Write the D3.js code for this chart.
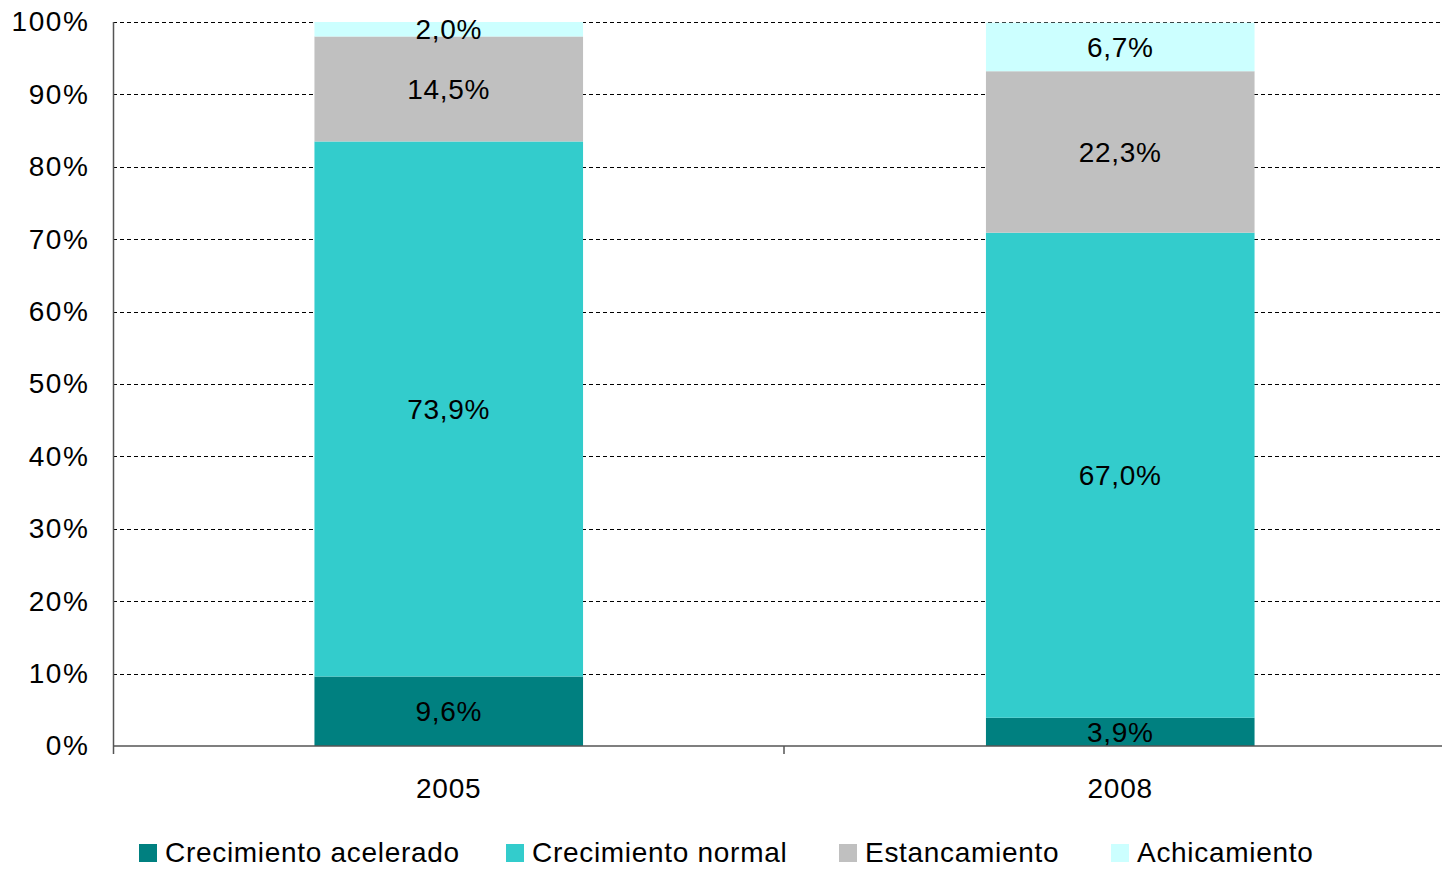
<!DOCTYPE html>
<html lang="es">
    <head>
        <title>Crecimiento 2005 - 2008</title>
        <script src="https://d3js.org/d3.v7.min.js"></script>
        <style>
            body { margin: 0; background: #fff; }
            svg { display: block; font-family: "Liberation Sans", Arial, sans-serif; }
        </style>
    </head>
    <body>
    <div id="mainDiv"></div>

        <script type="text/javascript">
            // data
            const years = ['2005', '2008']
            const series = ['Crecimiento acelerado', 'Crecimiento normal', 'Estancamiento', 'Achicamiento']
            const acelerado = [9.6, 3.9]
            const normal = [73.9, 67.0]
            const estancamiento = [14.5, 22.3]
            const achicamiento = [2.0, 6.7]
            const yTicks = [0, 10, 20, 30, 40, 50, 60, 70, 80, 90, 100]
            const colors = ['#008080', '#33cccc', '#c0c0c0', '#ccffff']

            const width = 1442
            const height = 869

            const margins = { top: 22, bottom: 123, left: 113, right: -14 }

            const svg = d3.select('#mainDiv').append('svg')
                .attr('width', width)
                .attr('height', height)

            const rows = years.map((y, i) => ({
                year: y,
                [series[0]]: acelerado[i],
                [series[1]]: normal[i],
                [series[2]]: estancamiento[i],
                [series[3]]: achicamiento[i]
            }))
            const stacked = d3.stack().keys(series)(rows)

            const x = d3.scaleBand()
                .domain(years)
                .range([margins.left, width - margins.right])
                .paddingInner(0.6)
                .paddingOuter(0.3)

            const y = d3.scaleLinear()
                .domain([0, 100])
                .range([height - margins.bottom, margins.top])

            // dashed grid
            svg.append('g')
                .selectAll('line')
                .data(yTicks.filter(d => d > 0))
                .join('line')
                .attr('x1', margins.left)
                .attr('x2', width)
                .attr('y1', d => Math.round(y(d)) + 0.5)
                .attr('y2', d => Math.round(y(d)) + 0.5)
                .attr('stroke', '#000')
                .attr('stroke-width', 1)
                .attr('stroke-dasharray', '4,3')

            // bars
            const layers = svg.append('g')
                .selectAll('g')
                .data(stacked)
                .join('g')
                .attr('fill', (d, i) => colors[i])

            layers.selectAll('rect')
                .data(d => d)
                .join('rect')
                .attr('x', d => x(d.data.year))
                .attr('width', x.bandwidth())
                .attr('y', d => y(d[1]))
                .attr('height', d => y(d[0]) - y(d[1]))

            // labels
            const fmt = v => v.toFixed(1).replace('.', ',') + '%'
            layers.selectAll('text')
                .data(d => d)
                .join('text')
                .attr('x', d => x(d.data.year) + x.bandwidth() / 2)
                .attr('y', d => (y(d[0]) + y(d[1])) / 2)
                .attr('dy', '0.36em')
                .attr('text-anchor', 'middle')
                .attr('fill', '#000')
                .attr('font-size', 28)
                .attr('letter-spacing', 0.7)
                .text(d => fmt(d[1] - d[0]))

            // y axis
            const yAxis = svg.append('g')
                .attr('transform', `translate(${margins.left + 0.5},0)`)
                .call(d3.axisLeft(y).tickValues(yTicks).tickSize(0).tickPadding(24).tickFormat(d => d + '%'))
            yAxis.select('.domain').attr('stroke', '#555').attr('stroke-width', 1.5)
                .attr('d', `M0,${y(100)}V${y(0) + 8}`)
            yAxis.selectAll('text').attr('font-size', 28).attr('fill', '#000')
                .attr('letter-spacing', 1.6)
                .attr('font-family', '"Liberation Sans", Arial, sans-serif')

            // x axis
            const xAxis = svg.append('g')
                .attr('transform', `translate(0,${y(0)})`)
                .call(d3.axisBottom(x).tickSize(0).tickPadding(32))
            xAxis.select('.domain').attr('stroke', '#555').attr('stroke-width', 1.5)
                .attr('d', `M${margins.left},0H${width}`)
            xAxis.selectAll('text').attr('font-size', 28).attr('fill', '#000')
                .attr('letter-spacing', 0.8)
                .attr('font-family', '"Liberation Sans", Arial, sans-serif')
            // category separator tick
            xAxis.append('line')
                .attr('x1', x(years[1]) - x.step() * x.paddingInner() / 2 - 0.5)
                .attr('x2', x(years[1]) - x.step() * x.paddingInner() / 2 - 0.5)
                .attr('y1', 0).attr('y2', 8)
                .attr('stroke', '#555').attr('stroke-width', 1.5)

            // legend
            const legendX = [139, 506, 839, 1111]
            const legend = svg.append('g')
                .selectAll('g')
                .data(series)
                .join('g')
                .attr('transform', (d, i) => `translate(${legendX[i]},844)`)
            legend.append('rect')
                .attr('width', 18).attr('height', 18)
                .attr('fill', (d, i) => colors[i])
            legend.append('text')
                .attr('x', 26).attr('y', 18)
                .attr('font-size', 28)
                .attr('letter-spacing', 0.7)
                .attr('fill', '#000')
                .text(d => d)
        </script>
    </body>
</html>
